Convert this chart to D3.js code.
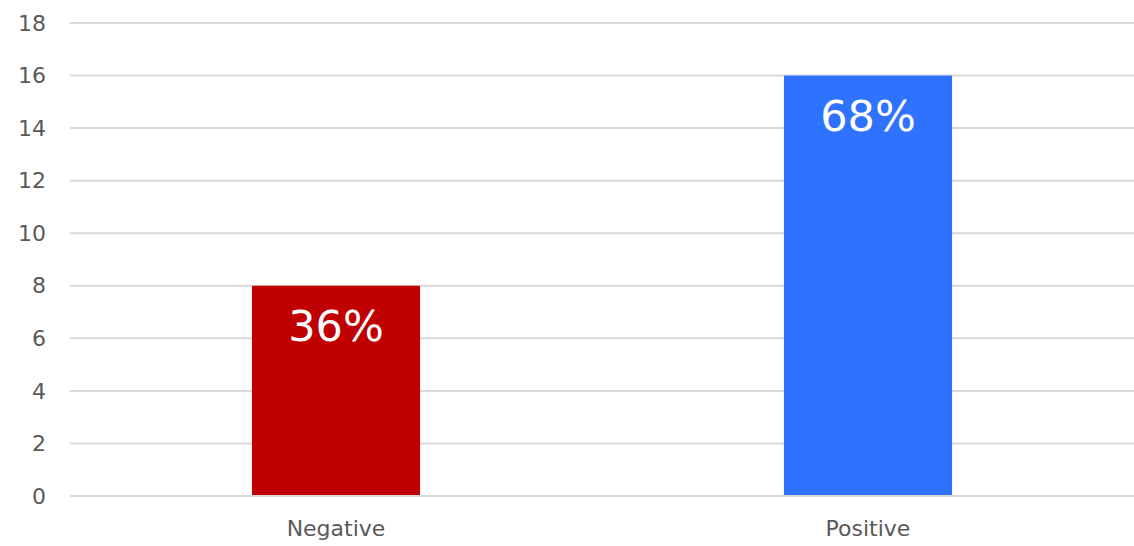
<!DOCTYPE html>
<html><head><meta charset="utf-8">
<script src="https://cdn.jsdelivr.net/npm/d3@7"></script>
<style>body{margin:0;background:#fff}svg{display:block}</style>
</head><body>
<script>
const categories = ["Negative", "Positive"];
const values = [8, 16];
const labels = ["36%", "68%"];
const colors = ["#c00000", "#2e72ff"];
const yTicks = [0, 2, 4, 6, 8, 10, 12, 14, 16, 18];

const W = 1134, H = 546;
const m = {left: 70, right: 0, top: 23, bottom: 50};
const svg = d3.select("body").append("svg").attr("width", W).attr("height", H);
const font = "DejaVu Sans, Verdana, sans-serif";

const x = d3.scaleBand().domain(categories).range([m.left, W - m.right]).paddingInner(0.684).paddingOuter(0.342);
const y = d3.scaleLinear().domain([0, 18]).range([H - m.bottom, m.top]);

svg.append("g").selectAll("line").data(yTicks).join("line")
  .attr("x1", m.left).attr("x2", W - m.right)
  .attr("y1", d => y(d)).attr("y2", d => y(d))
  .attr("stroke", "#d9d9d9").attr("stroke-width", 2);

svg.append("g").selectAll("text").data(yTicks).join("text")
  .attr("x", 46).attr("y", d => y(d)).attr("dy", "0.35em")
  .attr("text-anchor", "end").attr("font-family", font).attr("font-size", 22)
  .attr("fill", "#595959").text(d => d);

svg.append("g").selectAll("rect").data(values).join("rect")
  .attr("x", (d, i) => x(categories[i])).attr("width", x.bandwidth())
  .attr("y", d => y(d)).attr("height", d => y(0) - y(d) - 1)
  .attr("fill", (d, i) => colors[i]);

svg.append("g").selectAll("text").data(values).join("text")
  .attr("x", (d, i) => x(categories[i]) + x.bandwidth() / 2)
  .attr("y", d => y(d) + 55)
  .attr("text-anchor", "middle").attr("font-family", font).attr("font-size", 43)
  .attr("fill", "#ffffff").text((d, i) => labels[i]);

svg.append("g").selectAll("text").data(categories).join("text")
  .attr("x", d => x(d) + x.bandwidth() / 2).attr("y", 536)
  .attr("text-anchor", "middle").attr("font-family", font).attr("font-size", 22)
  .attr("fill", "#595959").text(d => d);
</script>
</body></html>
